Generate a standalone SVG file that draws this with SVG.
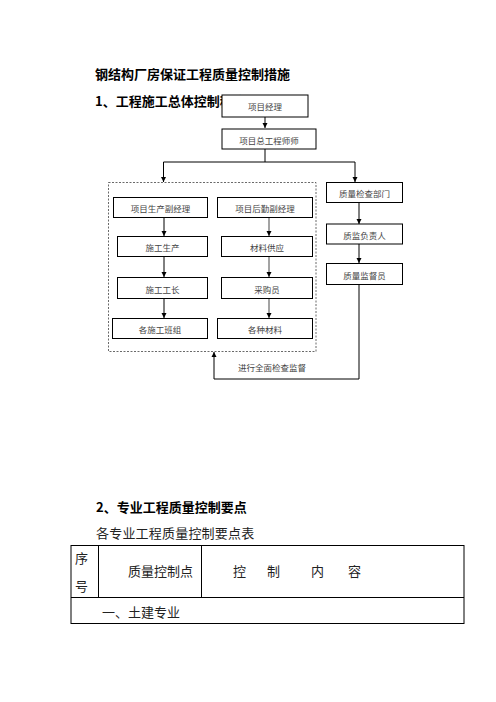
<svg xmlns="http://www.w3.org/2000/svg" width="496" height="702" viewBox="0 0 496 702">
<style>
.h{font-family:"Noto Sans CJK SC","Liberation Sans",sans-serif;font-weight:bold;font-size:13px;fill:#000}
.b{font-family:"Noto Sans CJK SC","Liberation Sans",sans-serif;font-size:13px;fill:#222}
.t{font-family:"Noto Sans CJK SC","Liberation Sans",sans-serif;font-size:8.5px;fill:#444;text-anchor:middle;dominant-baseline:central}
.box{fill:#fff;stroke:#000;stroke-width:1}
.ln{fill:none;stroke:#000;stroke-width:1}
.gl{fill:none;stroke:#666;stroke-width:1.2}
.tb{fill:none;stroke:#000;stroke-width:1}
</style>
<defs>
<marker id="ah" markerUnits="userSpaceOnUse" markerWidth="6" markerHeight="6" refX="5" refY="3" orient="auto"><path d="M0,0.5 L5,3 L0,5.5 Z" fill="#000"/></marker>
</defs>
<rect width="496" height="702" fill="#fff"/>
<text class="h" x="95" y="79">钢结构厂房保证工程质量控制措施</text>
<text class="h" x="95" y="106">1、工程施工总体控制程序</text>

<g id="connectors">
<path class="ln" d="M265,117 V128" marker-end="url(#ah)"/>
<path class="ln" d="M265,149 V162 M163.5,162 H355"/>
<path class="ln" d="M163.5,162 V182" marker-end="url(#ah)"/>
<path class="ln" d="M355,162 V182" marker-end="url(#ah)"/>
<path class="ln" d="M164,218 V236" marker-end="url(#ah)"/>
<path class="ln" d="M164,257 V277" marker-end="url(#ah)"/>
<path class="ln" d="M164,298 V318" marker-end="url(#ah)"/>
<path class="gl" d="M269,218 V236" marker-end="url(#ah)"/>
<path class="gl" d="M269,257 V277" marker-end="url(#ah)"/>
<path class="gl" d="M269,298 V318" marker-end="url(#ah)"/>
<path class="ln" d="M359,202 V224" marker-end="url(#ah)"/>
<path class="ln" d="M359,244 V263" marker-end="url(#ah)"/>
<path class="ln" d="M359,284 V379 H214 V352" marker-end="url(#ah)"/>
</g>

<rect id="group" x="108.5" y="182.5" width="207.5" height="169" fill="none" stroke="#444" stroke-width="0.8" stroke-dasharray="2,1.5"/>

<g id="n1"><rect class="box" x="222" y="95" width="86" height="22"/><text class="t" x="265" y="106">项目经理</text></g>
<g id="n2"><rect class="box" x="222" y="129" width="94" height="20"/><text class="t" x="269" y="139.5">项目总工程师师</text></g>
<g id="n3"><rect class="box" x="113.5" y="197.5" width="94" height="20"/><text class="t" x="160.5" y="208">项目生产副经理</text></g>
<g id="n4"><rect class="box" x="217.5" y="197.5" width="95" height="20"/><text class="t" x="265" y="208">项目后勤副经理</text></g>
<g id="n5"><rect class="box" x="326.5" y="182.5" width="76" height="20"/><text class="t" x="364.5" y="193">质量检查部门</text></g>
<g id="n6"><rect class="box" x="117.5" y="236.5" width="90" height="20"/><text class="t" x="162.5" y="247">施工生产</text></g>
<g id="n7"><rect class="box" x="221.5" y="236.5" width="91" height="20"/><text class="t" x="267" y="247">材料供应</text></g>
<g id="n8"><rect class="box" x="326.5" y="224" width="76" height="20"/><text class="t" x="364.5" y="234.5">质监负责人</text></g>
<g id="n9"><rect class="box" x="326.5" y="263.5" width="76" height="21"/><text class="t" x="364.5" y="274.5">质量监督员</text></g>
<g id="n10"><rect class="box" x="117.5" y="277.5" width="90" height="21"/><text class="t" x="162.5" y="288.5">施工工长</text></g>
<g id="n11"><rect class="box" x="221.5" y="277.5" width="91" height="21"/><text class="t" x="267" y="288.5">采购员</text></g>
<g id="n12"><rect class="box" x="112.5" y="318.5" width="95" height="20"/><text class="t" x="160" y="329">各施工班组</text></g>
<g id="n13"><rect class="box" x="217.5" y="318.5" width="95" height="20"/><text class="t" x="265" y="329">各种材料</text></g>
<text class="t" x="272" y="366.5">进行全面检查监督</text>

<text class="h" x="96" y="512">2、专业工程质量控制要点</text>
<text class="b" x="96" y="538" letter-spacing="0.2">各专业工程质量控制要点表</text>

<g id="table">
<rect class="tb" x="71" y="545.5" width="393" height="78"/>
<path class="tb" d="M71,597.5 H464 M98.5,545.5 V597.5 M201.5,545.5 V597.5"/>
<text class="b" x="75" y="563" font-size="13.5">序</text>
<text class="b" x="75" y="591" font-size="13.5">号</text>
<text class="b" x="128" y="576" font-size="13.5">质量控制点</text>
<text class="b" x="233" y="576" font-size="13.5">控</text>
<text class="b" x="267" y="576" font-size="13.5">制</text>
<text class="b" x="311" y="576" font-size="13.5">内</text>
<text class="b" x="348" y="576" font-size="13.5">容</text>
<text class="b" x="102" y="617" font-size="13.5">一、土建专业</text>
</g>
</svg>
